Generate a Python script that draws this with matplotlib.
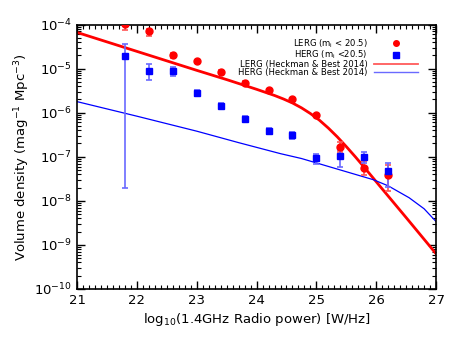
import numpy as np
import matplotlib
matplotlib.use("Agg")
import matplotlib.pyplot as plt
from matplotlib.lines import Line2D
from matplotlib.ticker import FixedLocator, LogLocator, MultipleLocator, NullFormatter

# luminosity bins (log10 L_1.4GHz)
lerg_x = [21.8, 22.2, 22.6, 23.0, 23.4, 23.8, 24.2, 24.6, 25.0, 25.4, 25.8, 26.2]
lerg_y = [1.05e-4, 7.0e-5, 2.0e-5, 1.45e-5, 8.5e-6, 4.8e-6, 3.2e-6, 2.0e-6, 8.7e-7, 1.7e-7, 5.6e-8, 3.9e-8]
lerg_lo = [3.0e-5, 1.6e-5, 2.5e-6, 1.0e-6, 6e-7, 3e-7, 2e-7, 1.5e-7, 8e-8, 4e-8, 1.8e-8, 2.2e-8]
lerg_hi = [3.0e-5, 1.0e-5, 2.5e-6, 1.0e-6, 6e-7, 3e-7, 2e-7, 1.5e-7, 8e-8, 5e-8, 2.5e-8, 2.5e-8]

herg_x = [21.8, 22.2, 22.6, 23.0, 23.4, 23.8, 24.2, 24.6, 25.0, 25.4, 25.8, 26.2]
herg_y = [1.9e-5, 9.0e-6, 8.7e-6, 2.8e-6, 1.45e-6, 7.2e-7, 3.8e-7, 3.1e-7, 9.3e-8, 1.05e-7, 9.7e-8, 4.7e-8]
herg_lo = [1.898e-5, 3.6e-6, 2.0e-6, 4e-7, 2e-7, 1e-7, 6e-8, 6e-8, 2.5e-8, 4.5e-8, 2.5e-8, 2.6e-8]
herg_hi = [1.8e-5, 4.0e-6, 2.0e-6, 4e-7, 2e-7, 1e-7, 6e-8, 6e-8, 2.5e-8, 3.5e-8, 3e-8, 2.4e-8]

# Heckman & Best 2014 curves (log10 density)
hb_lerg_x = [21.0, 22.0, 23.0, 23.5, 24.0, 24.3, 24.45, 24.6, 24.75, 24.9, 25.05, 25.2,
             25.35, 25.5, 25.65, 25.8, 26.1, 26.5, 27.0]
hb_lerg_logy = [-4.18, -4.61, -5.04, -5.25, -5.47, -5.61, -5.69, -5.78, -5.89, -6.02, -6.17, -6.35,
                -6.55, -6.77, -7.00, -7.24, -7.73, -8.38, -9.20]
hb_herg_x = [21.0, 22.0, 23.0, 23.7, 24.4, 24.75, 25.0, 25.4, 25.95, 26.2, 26.55, 26.8, 27.0]
hb_herg_logy = [-5.75, -6.08, -6.42, -6.68, -6.93, -7.04, -7.14, -7.30, -7.52, -7.66, -7.93, -8.18, -8.47]

y_ticks = [1e-10, 1e-9, 1e-8, 1e-7, 1e-6, 1e-5, 1e-4]

plt.rcParams['font.family'] = ['DejaVu Sans']
fig = plt.figure(figsize=(4.59, 3.38), dpi=100)
ax = fig.add_axes([0.168, 0.145, 0.782, 0.7825])

ax.plot(hb_lerg_x, 10 ** np.array(hb_lerg_logy), color='red', lw=2.0, zorder=2)
ax.plot(hb_herg_x, 10 ** np.array(hb_herg_logy), color='blue', lw=0.9, zorder=2)

ax.errorbar(lerg_x, lerg_y, yerr=[lerg_lo, lerg_hi], fmt='none', ecolor='#ff5555',
            elinewidth=1.2, capsize=2.5, capthick=1.2, zorder=3)
ax.errorbar(herg_x, herg_y, yerr=[herg_lo, herg_hi], fmt='none', ecolor='#6a6aff',
            elinewidth=1.2, capsize=2.5, capthick=1.2, zorder=3)
ax.plot(lerg_x, lerg_y, 'o', color='red', ms=5, ls='none', zorder=4)
ax.plot(herg_x, herg_y, 's', color='blue', ms=5, ls='none', zorder=4)

ax.set_yscale('log')
ax.set_xlim(21, 27)
ax.set_ylim(1e-10, 1e-4)
ax.xaxis.set_major_locator(MultipleLocator(1))
ax.xaxis.set_minor_locator(MultipleLocator(0.1))
ax.yaxis.set_major_locator(FixedLocator(y_ticks))
ax.yaxis.set_minor_locator(LogLocator(base=10, subs=np.arange(2, 10), numticks=20))
ax.yaxis.set_minor_formatter(NullFormatter())
ax.tick_params(which='both', direction='in', top=True, right=True, labelsize=9.5)
ax.tick_params(which='major', length=6, width=1)
ax.tick_params(which='minor', length=3, width=0.8)
for s in ax.spines.values():
    s.set_linewidth(1.2)

ax.set_xlabel('log$_{\\mathregular{10}}$(1.4GHz Radio power) [W/Hz]', fontsize=9.5, labelpad=3)
ax.set_ylabel('Volume density (mag$^{\\mathregular{-1}}$ Mpc$^{\\mathregular{-3}}$)', fontsize=9.5, labelpad=2)

handles = [
    Line2D([], [], marker='o', color='red', ms=4, ls='none'),
    Line2D([], [], marker='s', color='blue', ms=3.8, ls='none'),
    Line2D([], [], color='#ff5a5a', lw=1.3),
    Line2D([], [], color='#6a6aff', lw=1.0),
]
labels = ['LERG (m$_\\mathregular{i}$ < 20.5)', 'HERG (m$_\\mathregular{i}$ <20.5)',
          'LERG (Heckman & Best 2014)', 'HERG (Heckman & Best 2014)']
ax.legend(handles, labels, loc='upper right', frameon=False, markerfirst=False,
          fontsize=6.1, handlelength=5.2, labelspacing=-0.12, borderaxespad=0.0,
          handletextpad=0.8, bbox_to_anchor=(0.96, 0.965))

fig.savefig('out.png', dpi=100)
